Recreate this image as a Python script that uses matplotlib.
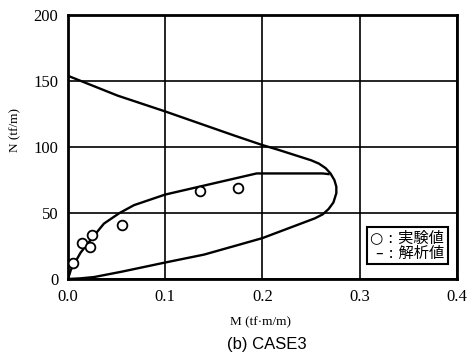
import matplotlib
matplotlib.use("Agg")
import matplotlib.pyplot as plt

plt.rcParams['font.family'] = ['Liberation Serif', 'Noto Sans CJK JP']

# analysis envelope: upper branch, nose, lower branch back to origin
env_m = [0.0, 0.051, 0.1, 0.17, 0.2, 0.216, 0.25, 0.258, 0.265, 0.27, 0.274, 0.276,
         0.276, 0.273, 0.268, 0.262, 0.254, 0.2, 0.178, 0.165, 0.14, 0.1, 0.055,
         0.027, 0.013, 0.0]
env_n = [154, 139, 127, 109, 101.5, 98, 90, 87.5, 84, 80, 75, 70,
         65, 58, 53, 49, 46, 31, 26.4, 23.7, 18.5, 12.5, 5.5,
         1.5, 0.5, 0]

# analysis inner branch from origin
inn_m = [0.0, 0.003, 0.013, 0.027, 0.037, 0.053, 0.068, 0.1, 0.194, 0.262, 0.268]
inn_n = [0, 7, 20, 33, 42, 50, 56, 64, 80, 80, 79.5]

# test values
exp_m = [0.005, 0.014, 0.023, 0.025, 0.056, 0.136, 0.175]
exp_n = [12, 27, 24, 33, 41, 67, 69]

fig = plt.figure(figsize=(4.72, 3.6), dpi=100)
ax = fig.add_axes([0.144, 0.225, 0.824, 0.733])

ax.plot(env_m, env_n, color='black', lw=1.7, zorder=3)
ax.plot(inn_m, inn_n, color='black', lw=1.7, zorder=3)
ax.plot(exp_m, exp_n, 'o', mfc='white', mec='black', mew=1.3, ms=7, zorder=4)

ax.set_xlim(0, 0.4)
ax.set_ylim(0, 200)
ax.set_xticks([0.0, 0.1, 0.2, 0.3, 0.4])
ax.set_xticklabels(['0.0', '0.1', '0.2', '0.3', '0.4'])
ax.set_yticks([0, 50, 100, 150, 200])
ax.grid(True, color='black', lw=1.2)
ax.set_axisbelow(True)
ax.tick_params(length=0, labelsize=12, pad=7)
for s in ax.spines.values():
    s.set_linewidth(2)

leg_txt = '○ : 実験値\n– : 解析値'
ax.text(0.387, 14, leg_txt, ha='right', va='bottom', fontsize=11,
        family=['DejaVu Sans', 'Noto Sans CJK JP'], linespacing=1.0,
        bbox=dict(boxstyle='square,pad=0.25', fc='white', ec='black', lw=1.5), zorder=5)

fig.text(15 / 472, 1 - 130 / 360, 'N (tf/m)', rotation=90, ha='center', va='center', fontsize=9.5)
fig.text(260 / 472, 1 - 322 / 360, 'M (tf·m/m)', ha='center', va='center', fontsize=9.5)
fig.text(267 / 472, 1 - 345 / 360, '(b) CASE3', ha='center', va='center', fontsize=12,
         family='Liberation Sans')

fig.savefig('out.png', dpi=100)
